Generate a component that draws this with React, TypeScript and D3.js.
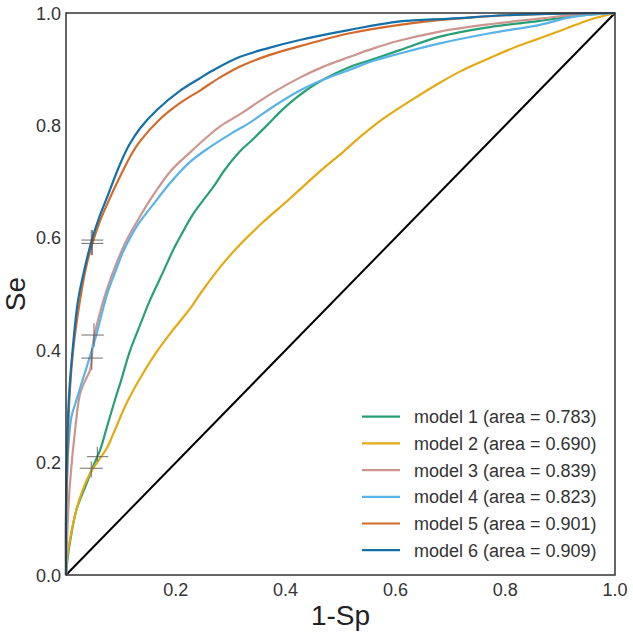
import React, { useEffect, useRef } from "react";
import * as d3 from "d3";

// ROC curves: [1-Sp, Se]
const model1: [number, number][] = [
  [0, 0], [0.003, 0.03], [0.007, 0.057], [0.019, 0.116], [0.038, 0.164], [0.05, 0.195],
  [0.062, 0.222], [0.075, 0.265], [0.089, 0.311], [0.1, 0.345], [0.117, 0.4], [0.135, 0.445],
  [0.153, 0.489], [0.175, 0.535], [0.195, 0.578], [0.208, 0.602], [0.23, 0.64], [0.25, 0.667],
  [0.268, 0.69], [0.29, 0.722], [0.317, 0.754], [0.34, 0.775], [0.366, 0.8],
  [0.39, 0.824], [0.414, 0.845], [0.457, 0.875], [0.517, 0.904], [0.56, 0.918], [0.608, 0.934],
  [0.681, 0.958], [0.772, 0.975], [0.863, 0.986], [0.93, 0.995], [1, 1],
];
const model2: [number, number][] = [
  [0, 0], [0.002, 0.03], [0.007, 0.062], [0.019, 0.116], [0.03, 0.15], [0.044, 0.181],
  [0.06, 0.205], [0.074, 0.225], [0.09, 0.26], [0.11, 0.305], [0.135, 0.35], [0.165, 0.397],
  [0.19, 0.43], [0.208, 0.452], [0.226, 0.474], [0.25, 0.508], [0.28, 0.547], [0.317, 0.588],
  [0.359, 0.628], [0.408, 0.67], [0.46, 0.716], [0.505, 0.753], [0.54, 0.783],
  [0.578, 0.812], [0.639, 0.851], [0.681, 0.876], [0.72, 0.897], [0.772, 0.92], [0.82, 0.94],
  [0.863, 0.955], [0.91, 0.972], [0.954, 0.988], [1, 1],
];
const model3: [number, number][] = [
  [0, 0], [0.003, 0.09], [0.007, 0.16], [0.016, 0.253], [0.026, 0.324], [0.037, 0.35],
  [0.044, 0.365], [0.05, 0.418], [0.06, 0.46], [0.074, 0.507], [0.09, 0.55], [0.11, 0.595],
  [0.13, 0.63], [0.153, 0.667], [0.19, 0.718], [0.226, 0.752], [0.26, 0.782], [0.28, 0.798],
  [0.317, 0.82], [0.34, 0.835], [0.38, 0.86], [0.426, 0.885], [0.47, 0.905], [0.517, 0.922],
  [0.56, 0.937], [0.608, 0.951], [0.681, 0.967], [0.772, 0.98], [0.863, 0.99], [0.93, 0.997],
  [1, 1],
];
const model4: [number, number][] = [
  [0, 0], [0.001, 0.12], [0.004, 0.222], [0.01, 0.282], [0.019, 0.311], [0.028, 0.34],
  [0.038, 0.371], [0.047, 0.4], [0.056, 0.43], [0.075, 0.5], [0.09, 0.54], [0.104, 0.575],
  [0.13, 0.622], [0.165, 0.667], [0.19, 0.698], [0.226, 0.735], [0.26, 0.76], [0.3, 0.785],
  [0.335, 0.805], [0.38, 0.835], [0.426, 0.862], [0.47, 0.882], [0.517, 0.899], [0.56, 0.915],
  [0.608, 0.928], [0.681, 0.946], [0.772, 0.964], [0.863, 0.979], [0.923, 0.993], [1, 1],
];
const model5: [number, number][] = [
  [0, 0], [0, 0.1], [0.003, 0.22], [0.006, 0.31], [0.013, 0.4], [0.024, 0.48], [0.036, 0.545],
  [0.048, 0.59], [0.06, 0.625], [0.075, 0.66], [0.1, 0.712], [0.12, 0.75], [0.135, 0.772],
  [0.17, 0.81], [0.208, 0.84], [0.244, 0.862], [0.28, 0.885], [0.317, 0.905], [0.37, 0.925],
  [0.426, 0.941], [0.517, 0.964], [0.608, 0.979], [0.7, 0.989], [0.8, 0.996], [0.9, 0.999], [1, 1],
];
const model6: [number, number][] = [
  [0, 0], [0, 0.12], [0.002, 0.22], [0.005, 0.31], [0.012, 0.4], [0.022, 0.489], [0.035, 0.55],
  [0.047, 0.596], [0.06, 0.635], [0.074, 0.67], [0.098, 0.73], [0.115, 0.765], [0.135, 0.795],
  [0.165, 0.827], [0.208, 0.862], [0.244, 0.884], [0.268, 0.898], [0.317, 0.922], [0.37, 0.938],
  [0.426, 0.952], [0.517, 0.97], [0.608, 0.985], [0.7, 0.99], [0.8, 0.996], [0.9, 0.999], [1, 1],
];

const curves = [model1, model2, model3, model4, model5, model6];
const modelNames = ["model 1", "model 2", "model 3", "model 4", "model 5", "model 6"];
const areas = ["0.783", "0.690", "0.839", "0.823", "0.901", "0.909"];
const colors = ["#27a077", "#e3aa12", "#cc968f", "#5ab3e6", "#d46a2a", "#1470a8"];

// operating points at ~5% 1-Sp with confidence intervals
const opFpr = [0.057, 0.046, 0.051, 0.047, 0.048, 0.046];
const opSe = [0.2105, 0.19, 0.427, 0.386, 0.596, 0.59];
const opFprLo = [0.038, 0.025, 0.028, 0.028, 0.028, 0.028];
const opFprHi = [0.077, 0.067, 0.069, 0.067, 0.068, 0.068];
const opSeLo = [0.202, 0.173, 0.406, 0.365, 0.569, 0.569];
const opSeHi = [0.228, 0.202, 0.448, 0.404, 0.614, 0.614];

const xTicks = [0.2, 0.4, 0.6, 0.8, 1.0];
const yTicks = [0.0, 0.2, 0.4, 0.6, 0.8, 1.0];

const W = 633;
const H = 635;
const margin = { left: 66, right: 18, top: 13, bottom: 60 };
const font = "'Liberation Sans', Arial, sans-serif";

const App = () => {
  const ref = useRef<SVGSVGElement>(null);

  useEffect(() => {
    document.body.style.margin = "0";
    if (!ref.current) return;
    const svg = d3.select(ref.current);
    svg.selectAll("*").remove();

    const x = d3.scaleLinear().domain([0, 1]).range([margin.left, W - margin.right]);
    const y = d3.scaleLinear().domain([0, 1]).range([H - margin.bottom, margin.top]);

    svg.append("rect").attr("width", W).attr("height", H).attr("fill", "#fff");

    // diagonal
    svg.append("line")
      .attr("x1", x(0)).attr("y1", y(0))
      .attr("x2", x(1)).attr("y2", y(1))
      .attr("stroke", "#000").attr("stroke-width", 2);

    const line = d3.line<[number, number]>()
      .x(d => x(d[0]))
      .y(d => y(d[1]))
      .curve(d3.curveCatmullRom.alpha(0.5));

    curves.forEach((c, i) => {
      svg.append("path")
        .attr("d", line(c))
        .attr("fill", "none")
        .attr("stroke", colors[i])
        .attr("stroke-width", 2.2)
        .attr("stroke-linejoin", "round");
    });

    // error crosses
    const g = svg.append("g").attr("stroke", "#555").attr("stroke-width", 1).attr("opacity", 0.85);
    opFpr.forEach((f, i) => {
      g.append("line")
        .attr("x1", x(opFprLo[i])).attr("x2", x(opFprHi[i]))
        .attr("y1", y(opSe[i])).attr("y2", y(opSe[i]));
      g.append("line")
        .attr("x1", x(f)).attr("x2", x(f))
        .attr("y1", y(opSeLo[i])).attr("y2", y(opSeHi[i]));
    });

    // frame
    svg.append("rect")
      .attr("x", x(0)).attr("y", y(1))
      .attr("width", x(1) - x(0)).attr("height", y(0) - y(1))
      .attr("fill", "none").attr("stroke", "#333").attr("stroke-width", 1.5);

    // tick labels
    svg.append("g").selectAll("text").data(xTicks).join("text")
      .attr("x", d => x(d)).attr("y", y(0) + 21)
      .attr("text-anchor", "middle")
      .attr("font-family", font).attr("font-size", 18).attr("fill", "#333")
      .text(d => d.toFixed(1));

    svg.append("g").selectAll("text").data(yTicks).join("text")
      .attr("x", x(0) - 5).attr("y", d => y(d) + 6.5)
      .attr("text-anchor", "end")
      .attr("font-family", font).attr("font-size", 18).attr("fill", "#333")
      .text(d => d.toFixed(1));

    // axis titles
    svg.append("text")
      .attr("x", (x(0) + x(1)) / 2).attr("y", 625)
      .attr("text-anchor", "middle")
      .attr("font-family", font).attr("font-size", 28).attr("fill", "#222")
      .text("1-Sp");

    svg.append("text")
      .attr("transform", `translate(25,${(y(0) + y(1)) / 2}) rotate(-90)`)
      .attr("text-anchor", "middle")
      .attr("font-family", font).attr("font-size", 28).attr("fill", "#222")
      .text("Se");

    // legend
    const leg = svg.append("g");
    modelNames.forEach((name, i) => {
      const ly = 416.7 + i * 26.7;
      leg.append("line")
        .attr("x1", 362).attr("x2", 400).attr("y1", ly).attr("y2", ly)
        .attr("stroke", colors[i]).attr("stroke-width", 2.2);
      leg.append("text")
        .attr("x", 414).attr("y", ly + 6.5)
        .attr("font-family", font).attr("font-size", 18).attr("fill", "#333")
        .text(`${name} (area = ${areas[i]})`);
    });
  }, []);

  return <svg ref={ref} width={W} height={H} style={{ display: "block" }}></svg>;
};

export default App;
